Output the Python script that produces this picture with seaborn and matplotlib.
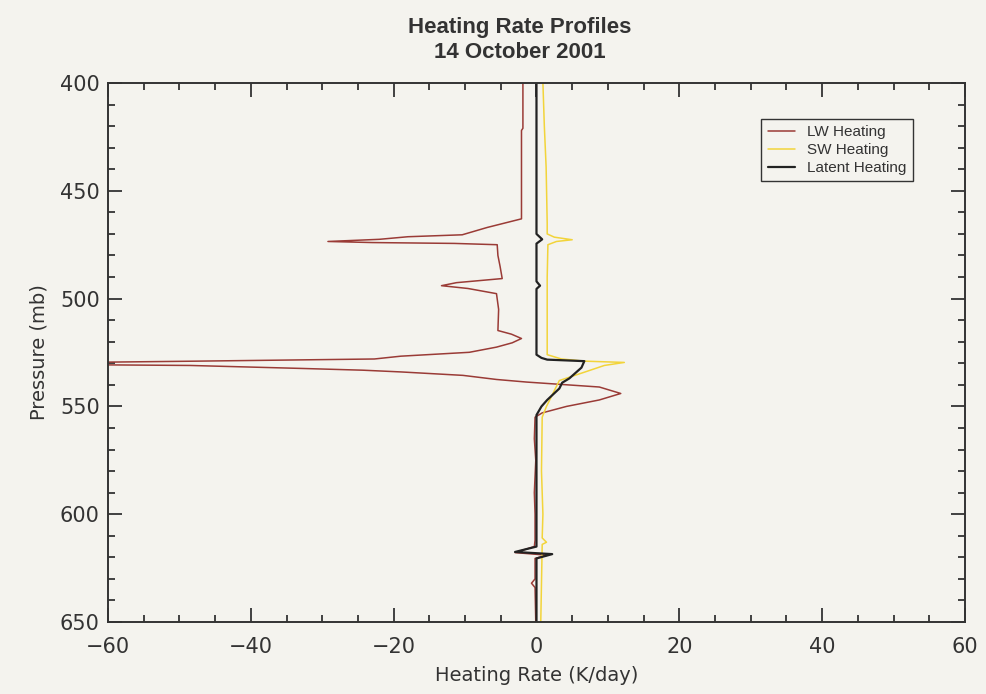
import numpy as np
import pandas as pd
import matplotlib
matplotlib.use("Agg")
import matplotlib.pyplot as plt
from matplotlib.ticker import MultipleLocator
import seaborn as sns

# LW heating profile (pressure in mb, rate in K/day)
lw_pressure = [400, 421, 422, 463, 465, 467, 470.4, 471.3, 472.5, 473.5, 474.0, 474.4,
               475.0, 480, 485, 490.7, 492.6, 494, 495.3, 497.7, 505, 514.8, 516.5,
               518.5, 520.5, 522.5, 524.9, 526.7, 528, 529, 530, 530.4, 531.0, 532.4,
               533.2, 534, 535.6, 537.5, 538.7, 541, 544, 547, 550, 553, 555, 565,
               575, 590, 600, 612, 615, 617.8, 619, 620.5, 630, 632, 634, 650]
lw_rate = [-1.9, -1.9, -2.1, -2.1, -4.5, -6.9, -10.4, -18, -22, -29.2, -23, -11.5,
           -5.5, -5.4, -5.1, -4.8, -11.2, -13.3, -9.6, -5.6, -5.3, -5.4, -3.5,
           -2.1, -3.4, -5.6, -9.4, -19, -22.7, -47.5, -75, -75, -48.5, -32.7,
           -24.3, -19, -10.3, -5.6, -1.4, 8.8, 11.8, 8.8, 4.2, 0.8, -0.2, -0.3,
           -0.1, -0.3, -0.2, -0.2, -0.3, -3.0, 1.5, -0.2, -0.2, -0.7, -0.2, -0.1]

# SW heating profile
sw_pressure = [400, 420, 439, 465, 470, 471.5, 472.7, 473.5, 475, 490, 510, 526, 528,
               529, 529.6, 531, 533.8, 538, 550, 555, 580, 600, 611, 613, 614, 650]
sw_rate = [0.9, 1.1, 1.35, 1.5, 1.5, 2.5, 5.0, 2.8, 1.6, 1.5, 1.5, 1.5, 3.5,
           6.7, 12.3, 9.5, 7.0, 3.2, 1.4, 0.8, 0.7, 0.9, 0.8, 1.4, 0.8, 0.6]

# Latent heating profile
lh_pressure = [400, 470, 472.5, 474.5, 492, 494, 495.5, 526, 527.5, 528.3, 529, 532,
               537, 539, 541.7, 547, 550, 554, 615, 617.5, 618.5, 620.5, 650]
lh_rate = [0, 0, 0.8, 0, 0, 0.5, 0, 0, 0.7, 1.5, 6.7, 6.3,
           4.6, 3.6, 3.2, 1.5, 0.7, 0, 0, -3.0, 2.2, 0, 0]

bg = "#f4f3ee"
ink = "#333333"

sns.set_style("ticks")
plt.rcParams.update({
    "font.family": ["DejaVu Sans"],
    "figure.facecolor": bg,
    "axes.facecolor": bg,
    "axes.edgecolor": ink,
    "axes.linewidth": 1.4,
    "xtick.color": ink,
    "ytick.color": ink,
    "text.color": ink,
    "axes.labelcolor": ink,
})

fig = plt.figure(figsize=(9.86, 6.94), dpi=100)
ax = fig.add_axes([0.1095, 0.1037, 0.8692, 0.7767])

sns.lineplot(x=lw_rate, y=lw_pressure, sort=False, estimator=None, ax=ax,
             color="#9a3b36", lw=1.1, label="LW Heating")
sns.lineplot(x=sw_rate, y=sw_pressure, sort=False, estimator=None, ax=ax,
             color="#f2d43a", lw=1.1, label="SW Heating")
sns.lineplot(x=lh_rate, y=lh_pressure, sort=False, estimator=None, ax=ax,
             color="#222222", lw=1.6, label="Latent Heating")

ax.set_xlim(-60, 60)
ax.set_ylim(650, 400)
ax.xaxis.set_major_locator(MultipleLocator(20))
ax.xaxis.set_minor_locator(MultipleLocator(5))
ax.yaxis.set_major_locator(MultipleLocator(50))
ax.yaxis.set_minor_locator(MultipleLocator(10))
ax.tick_params(which="both", direction="in", top=True, right=True, width=1.3)
ax.tick_params(which="major", length=10)
ax.tick_params(which="minor", length=5)
ax.tick_params(axis="x", labelsize=15, pad=11)
ax.tick_params(axis="y", labelsize=15, pad=6)

ax.set_xlabel("Heating Rate (K/day)", fontsize=14, labelpad=6)
ax.set_ylabel("Pressure (mb)", fontsize=14, labelpad=8)

fig.suptitle("Heating Rate Profiles\n14 October 2001", x=0.527, y=0.975,
             fontsize=16, fontweight="bold", family=["Liberation Sans"],
             linespacing=1.25)

leg = ax.legend(loc="upper right", bbox_to_anchor=(0.939, 0.933), borderaxespad=0,
                frameon=True, fancybox=False, edgecolor=ink, facecolor=bg,
                framealpha=1, handlelength=1.8, labelspacing=0.25,
                prop={"family": "Liberation Sans", "size": 11})
leg.get_frame().set_linewidth(1.0)

fig.savefig("out.png", dpi=100, facecolor=bg)
